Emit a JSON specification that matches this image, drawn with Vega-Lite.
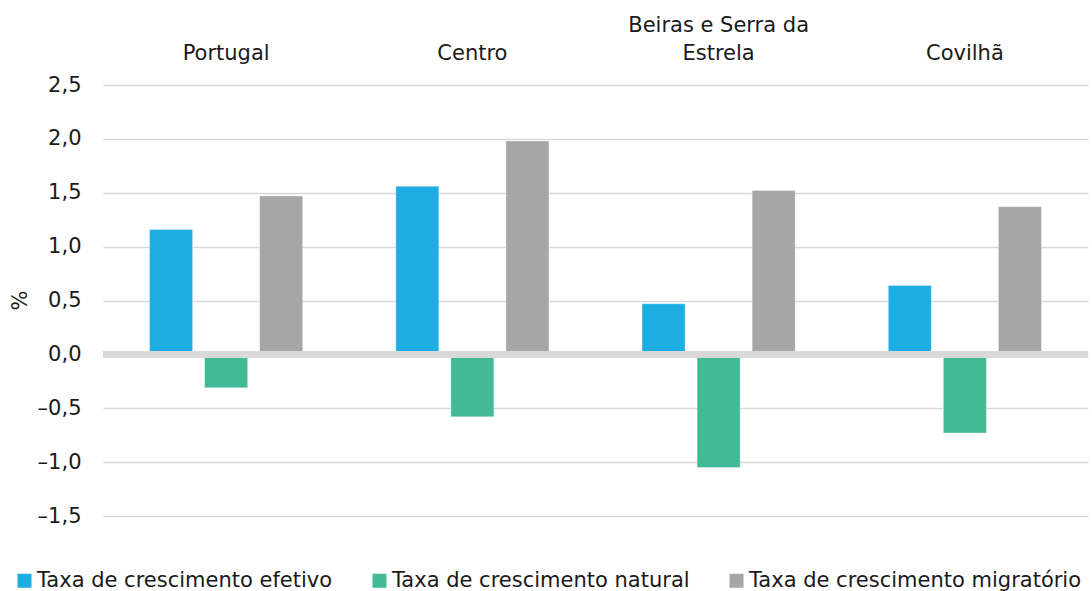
{
  "$schema": "https://vega.github.io/schema/vega-lite/v6.json",
  "width": 985,
  "height": 431,
  "autosize": {"type": "none"},
  "padding": {"left": 103, "top": 85, "right": 4, "bottom": 75},
  "background": "white",
  "config": {
    "font": "DejaVu Sans",
    "view": {"stroke": null}
  },
  "data": {
    "values": [
      {"regiao": "Portugal", "serie": "Taxa de crescimento efetivo", "valor": 1.16},
      {"regiao": "Portugal", "serie": "Taxa de crescimento natural", "valor": -0.31},
      {"regiao": "Portugal", "serie": "Taxa de crescimento migratório", "valor": 1.47},
      {"regiao": "Centro", "serie": "Taxa de crescimento efetivo", "valor": 1.56},
      {"regiao": "Centro", "serie": "Taxa de crescimento natural", "valor": -0.58},
      {"regiao": "Centro", "serie": "Taxa de crescimento migratório", "valor": 1.98},
      {"regiao": "Beiras e Serra da Estrela", "serie": "Taxa de crescimento efetivo", "valor": 0.47},
      {"regiao": "Beiras e Serra da Estrela", "serie": "Taxa de crescimento natural", "valor": -1.05},
      {"regiao": "Beiras e Serra da Estrela", "serie": "Taxa de crescimento migratório", "valor": 1.52},
      {"regiao": "Covilhã", "serie": "Taxa de crescimento efetivo", "valor": 0.64},
      {"regiao": "Covilhã", "serie": "Taxa de crescimento natural", "valor": -0.73},
      {"regiao": "Covilhã", "serie": "Taxa de crescimento migratório", "valor": 1.37}
    ]
  },
  "layer": [
    {
      "mark": {"type": "bar", "stroke": "#ffffff", "strokeOpacity": 0.35, "strokeWidth": 1},
      "encoding": {
        "x": {
          "field": "regiao",
          "type": "nominal",
          "sort": ["Portugal", "Centro", "Beiras e Serra da Estrela", "Covilhã"],
          "scale": {"paddingInner": 0.378, "paddingOuter": 0.189},
          "axis": {
            "orient": "top",
            "title": null,
            "labelAngle": 0,
            "ticks": false,
            "tickSize": 0,
            "domain": false,
            "labelFontSize": 21,
            "labelPadding": 50,
            "labelLimit": 0,
            "labelColor": "#1a1a1a",
            "labelLineHeight": 28.5,
            "labelExpr": "datum.value == 'Beiras e Serra da Estrela' ? ['Beiras e Serra da', 'Estrela'] : ['', datum.value]"
          }
        },
        "xOffset": {
          "field": "serie",
          "type": "nominal",
          "sort": ["Taxa de crescimento efetivo", "Taxa de crescimento natural", "Taxa de crescimento migratório"],
          "scale": {"paddingInner": 0.218, "paddingOuter": 0}
        },
        "y": {
          "field": "valor",
          "type": "quantitative",
          "scale": {"domain": [-1.5, 2.5], "nice": false, "zero": false},
          "axis": {
            "values": [-1.5, -1, -0.5, 0, 0.5, 1, 1.5, 2, 2.5],
            "grid": true,
            "gridColor": "#d9d9d9",
            "gridWidth": 1.5,
            "domain": false,
            "ticks": false,
            "tickSize": 0,
            "labelPadding": 22,
            "labelFontSize": 21,
            "labelColor": "#1a1a1a",
            "labelExpr": "(datum.value < 0 ? '–' : '') + replace(format(abs(datum.value), '.1f'), '.', ',')",
            "title": "%",
            "titleFontSize": 21,
            "titleFontWeight": "normal",
            "titleColor": "#1a1a1a",
            "titleAngle": 270,
            "titleX": -83,
            "titleY": 215,
            "titleAlign": "center",
            "titleBaseline": "middle"
          }
        },
        "color": {
          "field": "serie",
          "type": "nominal",
          "scale": {
            "domain": ["Taxa de crescimento efetivo", "Taxa de crescimento natural", "Taxa de crescimento migratório"],
            "range": ["#1eade3", "#43ba96", "#a6a6a6"]
          },
          "legend": {
            "orient": "none",
            "legendX": -89,
            "legendY": 485,
            "direction": "horizontal",
            "title": null,
            "symbolType": "square",
            "symbolSize": 196,
            "symbolStrokeWidth": 0,
            "labelFontSize": 21,
            "labelColor": "#1a1a1a",
            "labelOffset": 2,
            "labelLimit": 0,
            "columnPadding": 36,
            "padding": 0
          }
        }
      }
    },
    {
      "mark": {"type": "rule", "color": "#d9d9d9", "strokeWidth": 6},
      "encoding": {"y": {"datum": 0}}
    }
  ]
}
